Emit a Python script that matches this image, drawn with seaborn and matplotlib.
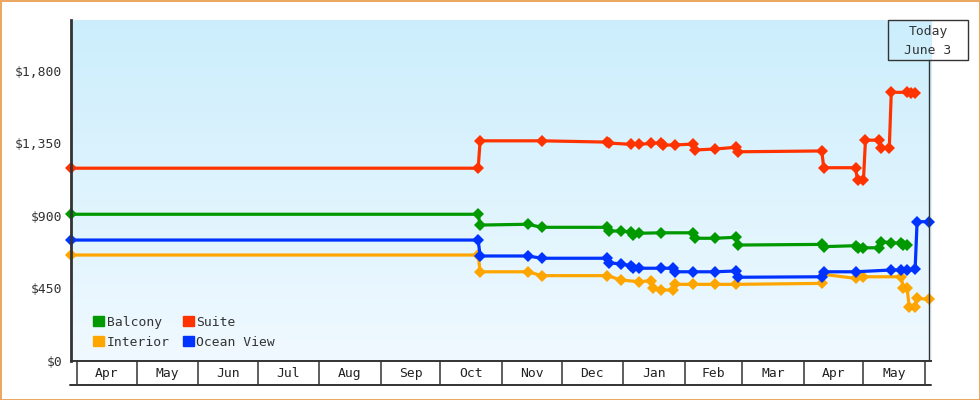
import matplotlib
matplotlib.use("Agg")
import matplotlib.pyplot as plt
import matplotlib.transforms as mtransforms
from matplotlib.patches import Patch, Rectangle
from matplotlib.colors import LinearSegmentedColormap
import numpy as np
import pandas as pd
import seaborn as sns

# cabin price history
cabins = ["Balcony", "Interior", "Suite", "Ocean View"]
colors = ["#009900", "#FFA500", "#FF3300", "#0033FF"]

balcony_dates = ["2023-03-29", "2023-10-20", "2023-10-21", "2023-11-14", "2023-11-21", "2023-12-24",
                 "2023-12-25", "2023-12-31", "2024-01-05", "2024-01-06", "2024-01-09", "2024-01-20",
                 "2024-02-05", "2024-02-06", "2024-02-16", "2024-02-27", "2024-02-28", "2024-04-10",
                 "2024-04-11", "2024-04-27", "2024-04-28", "2024-05-01", "2024-05-09", "2024-05-10",
                 "2024-05-15", "2024-05-20", "2024-05-21", "2024-05-23"]
balcony_prices = [909, 909, 842, 847, 828, 828, 805, 805, 797, 780, 791, 794, 794, 760, 760, 766,
                  718, 722, 708, 714, 698, 701, 701, 739, 732, 729, 718, 718]

interior_dates = ["2023-03-29", "2023-10-20", "2023-10-21", "2023-11-14", "2023-11-21", "2023-12-24",
                  "2023-12-31", "2024-01-09", "2024-01-15", "2024-01-16", "2024-01-20", "2024-01-26",
                  "2024-01-27", "2024-02-05", "2024-02-16", "2024-02-27", "2024-04-10", "2024-04-11",
                  "2024-04-27", "2024-05-01", "2024-05-20", "2024-05-21", "2024-05-23", "2024-05-24",
                  "2024-05-27", "2024-05-28", "2024-06-03"]
interior_prices = [656, 656, 552, 552, 528, 528, 501, 490, 497, 453, 439, 439, 474, 474, 474, 474,
                   480, 536, 511, 521, 521, 449, 449, 335, 335, 387, 381]

suite_dates = ["2023-03-29", "2023-10-20", "2023-10-21", "2023-11-21", "2023-12-24", "2023-12-25",
               "2024-01-05", "2024-01-09", "2024-01-15", "2024-01-20", "2024-01-21", "2024-01-27",
               "2024-02-05", "2024-02-06", "2024-02-16", "2024-02-27", "2024-02-28", "2024-04-10",
               "2024-04-11", "2024-04-27", "2024-04-28", "2024-05-01", "2024-05-02", "2024-05-09",
               "2024-05-10", "2024-05-14", "2024-05-15", "2024-05-23", "2024-05-25", "2024-05-27"]
suite_prices = [1195, 1195, 1365, 1365, 1357, 1351, 1343, 1343, 1349, 1353, 1339, 1339, 1345, 1308,
                1314, 1325, 1297, 1302, 1198, 1198, 1122, 1122, 1369, 1369, 1322, 1322, 1666, 1666,
                1660, 1660]

ocean_dates = ["2023-03-29", "2023-10-20", "2023-10-21", "2023-11-14", "2023-11-21", "2023-12-24",
               "2023-12-25", "2023-12-31", "2024-01-05", "2024-01-06", "2024-01-09", "2024-01-20",
               "2024-01-26", "2024-01-27", "2024-02-05", "2024-02-16", "2024-02-27", "2024-02-28",
               "2024-04-10", "2024-04-11", "2024-04-27", "2024-05-15", "2024-05-20", "2024-05-23",
               "2024-05-27", "2024-05-28", "2024-06-03"]
ocean_prices = [749, 749, 650, 650, 636, 636, 608, 600, 590, 574, 574, 574, 574, 552, 552, 552, 557,
                518, 521, 552, 552, 563, 563, 563, 567, 863, 863]

month_labels = ["Apr", "May", "Jun", "Jul", "Aug", "Sep", "Oct", "Nov", "Dec", "Jan", "Feb", "Mar",
                "Apr", "May"]
x_start, x_end = "2023-03-29", "2024-06-04"
today = "2024-06-03"
y_ticks = [0, 450, 900, 1350, 1800]
y_labels = ["$0", "$450", "$900", "$1,350", "$1,800"]

series = {
    "Balcony": (balcony_dates, balcony_prices),
    "Interior": (interior_dates, interior_prices),
    "Suite": (suite_dates, suite_prices),
    "Ocean View": (ocean_dates, ocean_prices),
}
df = pd.concat([pd.DataFrame({"date": pd.to_datetime(d), "price": p, "cabin": c})
                for c, (d, p) in series.items()], ignore_index=True)

sns.set_style("white")
plt.rcParams["font.family"] = ["DejaVu Sans Mono"]
ink = "#333333"

fig, ax = plt.subplots(figsize=(9.8, 4), dpi=100)
fig.subplots_adjust(left=71 / 980, right=931 / 980, bottom=39.3 / 400, top=380 / 400)
fig.patch.set_edgecolor("#EAA862")
fig.patch.set_linewidth(2)

# gradient background behind the plot
bg = fig.add_axes(ax.get_position(), zorder=-1)
grad = np.linspace(0, 1, 256).reshape(-1, 1)
cmap = LinearSegmentedColormap.from_list("bg", ["#F0F9FF", "#CCEEFC"])
bg.imshow(grad, cmap=cmap, extent=(0, 1, 0, 1), aspect="auto", origin="lower")
bg.axis("off")
ax.patch.set_alpha(0)

sns.lineplot(data=df, x="date", y="price", hue="cabin", hue_order=cabins,
             palette=dict(zip(cabins, colors)), estimator=None, marker="D", markersize=5.8,
             markeredgewidth=0, linewidth=2.3, legend=False, ax=ax, clip_on=False)

ax.set_xlim(pd.Timestamp(x_start), pd.Timestamp(x_end))
ax.set_ylim(0, 2115)
ax.set_xlabel("")
ax.set_ylabel("")
ax.set_yticks(y_ticks, y_labels)
ax.tick_params(axis="y", length=4.3, width=1.5, color=ink, labelcolor=ink, labelsize=9.4, pad=2)

month_starts = pd.date_range("2023-04-01", "2024-06-01", freq="MS")
mids = [a + (b - a) / 2 for a, b in zip(month_starts[:-1], month_starts[1:])]
ax.set_xticks(mids, month_labels)
ax.tick_params(axis="x", length=0, pad=4.5, labelsize=9.4, labelcolor="#222222")

for s in ["top", "right"]:
    ax.spines[s].set_visible(False)
ax.spines["left"].set_linewidth(2)
ax.spines["left"].set_color(ink)
ax.spines["bottom"].set_linewidth(1.4)
ax.spines["bottom"].set_color(ink)

# month boxes under the axis
box_bottom = -(385 - 360.7) / 340.7
trans = mtransforms.blended_transform_factory(ax.transData, ax.transAxes)
for d in month_starts:
    ax.plot([d, d], [0, box_bottom], transform=trans, clip_on=False, color=ink, lw=1.1)
ax.plot([-1 / 860, 1], [box_bottom, box_bottom], transform=ax.transAxes, clip_on=False,
        color=ink, lw=1.4)

# today marker
ax.axvline(pd.Timestamp(today), ymin=0, ymax=(360.7 - 60) / 340.7, color=ink, lw=1)
fig.add_artist(Rectangle((888 / 980, 340 / 400), 80 / 980, 40 / 400, transform=fig.transFigure,
                         fill=False, ec=ink, lw=1))
fig.text(928 / 980, (400 - 32) / 400, "Today", ha="center", va="center", fontsize=9.4, color=ink)
fig.text(928 / 980, (400 - 50) / 400, "June 3", ha="center", va="center", fontsize=9.4, color=ink)

handles = [Patch(color=c, label=n) for n, c in zip(cabins, colors)]
ax.legend(handles=handles, ncol=2, loc="lower left", bbox_to_anchor=(0.0256, 0.035),
          frameon=False, handlelength=0.85, handleheight=0.85, handletextpad=0.2,
          columnspacing=1.0, labelspacing=0.55, borderpad=0, borderaxespad=0, fontsize=9.4,
          labelcolor=ink)

fig.savefig("out.png", dpi=100)
